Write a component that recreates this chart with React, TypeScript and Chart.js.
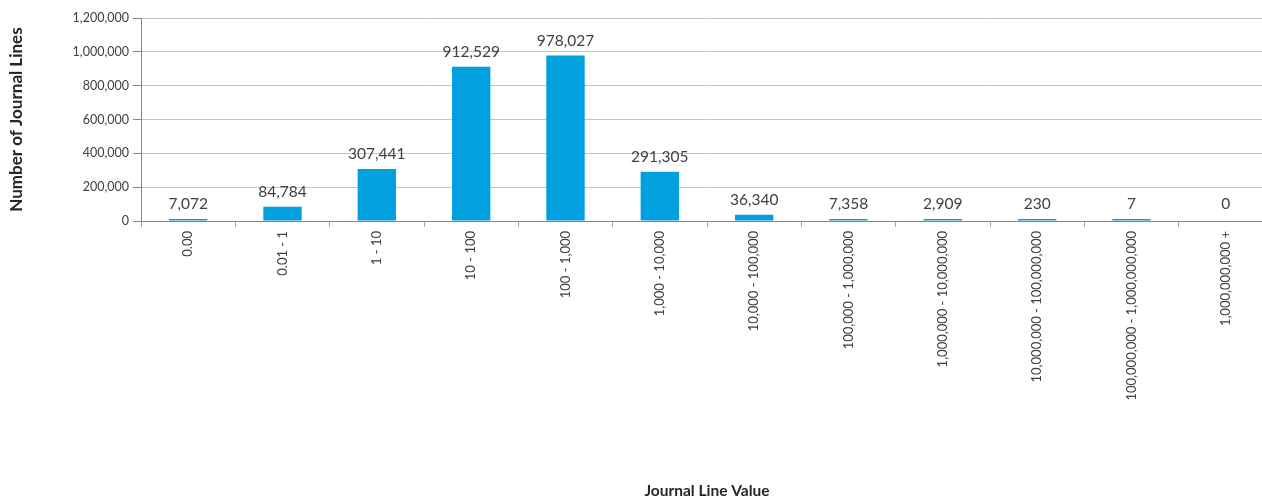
import React, { useEffect, useRef } from "react";
import { Chart, registerables } from "chart.js";

Chart.register(...registerables);

const categories: string[] = [
  "0.00",
  "0.01 - 1",
  "1 - 10",
  "10 - 100",
  "100 - 1,000",
  "1,000 - 10,000",
  "10,000 - 100,000",
  "100,000 - 1,000,000",
  "1,000,000 - 10,000,000",
  "10,000,000 - 100,000,000",
  "100,000,000 - 1,000,000,000",
  "1,000,000,000 +",
];

const journalLines: number[] = [
  7072, 84784, 307441, 912529, 978027, 291305, 36340, 7358, 2909, 230, 7, 0,
];

const yTicks: number[] = [0, 200000, 400000, 600000, 800000, 1000000, 1200000];

const FONT = "Lato, 'Open Sans', sans-serif";

const fmt = (v: number) => v.toLocaleString("en-US");

const valueLabels = {
  id: "valueLabels",
  afterDatasetsDraw(chart: any) {
    const ctx = chart.ctx;
    const meta = chart.getDatasetMeta(0);
    const data = chart.data.datasets[0].data as number[];
    ctx.save();
    ctx.font = `15.5px ${FONT}`;
    ctx.fillStyle = "#404040";
    ctx.textAlign = "center";
    ctx.textBaseline = "bottom";
    meta.data.forEach((el: any, i: number) => {
      ctx.fillText(fmt(data[i]), el.x, el.y - 7);
    });
    ctx.restore();
  },
};

export default function App() {
  const ref = useRef<HTMLCanvasElement | null>(null);

  useEffect(() => {
    document.body.style.margin = "0";
    if (!ref.current) return;
    const chart = new Chart(ref.current, {
      type: "bar",
      data: {
        labels: categories,
        datasets: [
          {
            data: journalLines,
            backgroundColor: (c: any) =>
              c.raw === 0 ? "rgba(0,0,0,0)" : "#00A1DE",
            borderWidth: 0,
            categoryPercentage: 1,
            barPercentage: 0.407,
            minBarLength: 2,
          },
        ],
      },
      options: {
        responsive: false,
        animation: false,
        layout: { padding: { top: 18, right: 3, left: 0, bottom: 0 } },
        plugins: {
          legend: { display: false },
          tooltip: { enabled: false },
        },
        scales: {
          x: {
            afterFit: (s: any) => {
              s.height = 279;
            },
            grid: {
              offset: true,
              drawOnChartArea: false,
              tickLength: 6,
              color: "#a6a6a6",
            },
            border: { display: true, color: "#868686" },
            ticks: {
              autoSkip: false,
              minRotation: 90,
              maxRotation: 90,
              padding: 4,
              color: "#404040",
              font: { family: FONT, size: 13 },
            },
            title: {
              display: true,
              text: "Journal Line Value",
              color: "#262626",
              font: { family: FONT, size: 15.5, weight: "bold" },
              padding: { top: 0, bottom: 0 },
            },
          },
          y: {
            min: 0,
            max: 1200000,
            afterFit: (s: any) => {
              s.width = 141;
            },
            afterBuildTicks: (s: any) => {
              s.ticks = yTicks.map((v) => ({ value: v }));
            },
            grid: {
              color: "#c4c4c4",
              tickLength: 8,
              tickColor: "#868686",
            },
            border: { display: true, color: "#868686" },
            ticks: {
              color: "#404040",
              padding: 4,
              font: { family: FONT, size: 12.5 },
              callback: (v: any) => fmt(Number(v)),
            },
            title: {
              display: true,
              text: "Number of Journal Lines",
              color: "#262626",
              font: { family: FONT, size: 17, weight: "bold" },
              padding: { top: 6, bottom: 0 },
            },
          },
        },
      },
      plugins: [valueLabels],
    });
    return () => chart.destroy();
  }, []);

  return (
    <div
      style={{
        width: 1262,
        height: 500,
        position: "relative",
        overflow: "hidden",
      }}
    >
      <canvas ref={ref} width={1276} height={500} />
    </div>
  );
}
